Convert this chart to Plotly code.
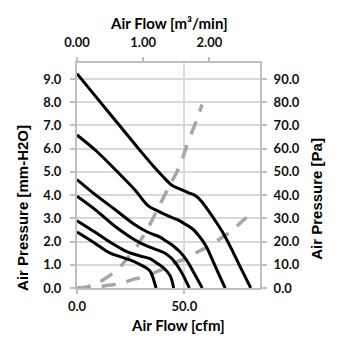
import plotly.graph_objects as go

# ---- data (Air Flow in cfm, Air Pressure in mm-H2O) ----
c1_x = [0, 10, 20, 30, 36, 40, 44, 48, 52, 55, 58, 61, 64, 68, 72.8, 76.7, 80.9]
c1_y = [9.23, 8.1, 6.98, 5.85, 5.2, 4.8, 4.44, 4.26, 4.1, 3.98, 3.73, 3.35, 2.95, 2.37, 1.52, 0.78, 0]

c2_x = [0, 9, 18, 27, 33, 38, 43, 47, 50, 54, 57, 60, 63, 66, 69]
c2_y = [6.59, 5.9, 5.08, 4.22, 3.55, 3.3, 3.08, 2.93, 2.77, 2.53, 2.22, 1.82, 1.22, 0.6, 0]

c3_x = [0, 8.5, 17.8, 27, 33, 38.5, 41, 45, 48, 51, 55, 58.3]
c3_y = [4.67, 4.02, 3.37, 2.72, 2.4, 2.2, 2.05, 1.8, 1.55, 1.2, 0.56, 0]

c4_x = [0, 8.5, 17.8, 27, 33, 38, 41, 44, 46.5, 49, 52.3]
c4_y = [3.95, 3.37, 2.65, 2.07, 1.79, 1.62, 1.5, 1.28, 1.0, 0.62, 0]

c5_x = [0, 8.5, 15.5, 20, 24, 29.4, 34, 38, 40.5, 43.4, 45]
c5_y = [2.9, 2.4, 1.97, 1.72, 1.53, 1.38, 1.26, 1.02, 0.85, 0.52, 0]

c6_x = [0, 8, 15, 20, 25, 29, 32, 34.1, 35.6, 36.8]
c6_y = [2.41, 1.95, 1.52, 1.35, 1.2, 1.03, 0.88, 0.72, 0.38, 0]

imp_a_x = [0, 5, 10, 15, 20, 24, 28, 31, 34, 37, 40, 43, 46.5, 49, 51, 53.5, 56, 58.2]
imp_a_y = [0, 0.06, 0.23, 0.52, 0.9, 1.35, 1.8, 2.27, 2.75, 3.3, 3.85, 4.4, 5.0, 5.55, 6.1, 6.7, 7.3, 7.9]

imp_b_x = [0, 5, 10, 16, 21.7, 26.3, 32.5, 37.2, 41.8, 46.5, 51.1, 56.5, 61.2, 65.8, 70.4, 74.3, 79]
imp_b_y = [0, 0.02, 0.06, 0.13, 0.23, 0.38, 0.5, 0.71, 0.88, 1.12, 1.28, 1.57, 1.78, 2.07, 2.35, 2.66, 3.05]

x_cfm_ticks = [0, 50]
x_cfm_labels = ["0.0", "50.0"]
x_m3_ticks = [0, 1, 2]
x_m3_labels = ["0.00", "1.00", "2.00"]
y_mm_ticks = [0, 1, 2, 3, 4, 5, 6, 7, 8, 9]
y_pa_ticks = [0, 10, 20, 30, 40, 50, 60, 70, 80, 90]

fan_curves = [(c1_x, c1_y), (c2_x, c2_y), (c3_x, c3_y), (c4_x, c4_y), (c5_x, c5_y), (c6_x, c6_y)]
impedance = [(imp_a_x, imp_a_y), (imp_b_x, imp_b_y)]

fig = go.Figure()
for xs, ys in impedance:
    fig.add_trace(go.Scatter(x=xs, y=ys, mode="lines",
                             line=dict(color="#a6a6a6", width=3.5, dash="14px,11px",
                                       shape="spline", smoothing=0.8),
                             showlegend=False, hoverinfo="skip"))
for xs, ys in fan_curves:
    fig.add_trace(go.Scatter(x=xs, y=ys, mode="lines",
                             line=dict(color="#000000", width=3, shape="spline", smoothing=1.0),
                             showlegend=False, hoverinfo="skip"))
# anchor trace for the secondary (top/right) axes
fig.add_trace(go.Scatter(x=[], y=[], xaxis="x2", yaxis="y2", mode="lines",
                         showlegend=False, hoverinfo="skip"))

tickfont = dict(family="Lato", size=13, color="#111111", weight="bold")
titlefont = dict(family="Lato", size=15, color="#000000", weight="bold")
axcol = "#bfbfbf"
gridcol = "#d9d9d9"

fig.update_layout(
    width=347, height=347,
    margin=dict(l=69, r=95, t=55, b=67),
    paper_bgcolor="white", plot_bgcolor="white",
    xaxis=dict(range=[0, 85.2], tickvals=x_cfm_ticks, ticktext=x_cfm_labels,
               showgrid=True, gridcolor=gridcol, gridwidth=2, zeroline=False,
               showline=True, linecolor=axcol, linewidth=2,
               ticks="outside", ticklen=4, tickcolor=axcol, tickwidth=1.5,
               tickfont=tickfont, ticklabelstandoff=1),
    xaxis2=dict(range=[0, 2.765], tickvals=x_m3_ticks, ticktext=x_m3_labels,
                overlaying="x", side="top", anchor="y",
                showgrid=False, zeroline=False,
                showline=True, linecolor=axcol, linewidth=2,
                ticks="outside", ticklen=4, tickcolor=axcol, tickwidth=1.5,
                tickfont=tickfont, ticklabelstandoff=5),
    yaxis=dict(range=[0, 9.69], tickvals=y_mm_ticks, tickformat=".1f",
               showgrid=True, gridcolor=gridcol, gridwidth=2, zeroline=False,
               showline=True, linecolor=axcol, linewidth=2,
               ticks="outside", ticklen=5, tickcolor=axcol, tickwidth=1.5,
               tickfont=tickfont, ticklabelstandoff=6),
    yaxis2=dict(range=[0, 96.9], tickvals=y_pa_ticks, tickformat=".1f",
                overlaying="y", side="right", anchor="x",
                showgrid=False, zeroline=False,
                showline=True, linecolor=axcol, linewidth=2,
                ticks="outside", ticklen=5, tickcolor=axcol, tickwidth=1.5,
                tickfont=tickfont, ticklabelstandoff=4),
    annotations=[
        dict(text="Air Flow [m³/min]", xref="paper", yref="paper", x=0.5, y=1.18,
             xanchor="center", yanchor="middle", showarrow=False, font=titlefont),
        dict(text="Air Flow [cfm]", xref="paper", yref="paper", x=0.552, y=-0.166,
             xanchor="center", yanchor="middle", showarrow=False, font=titlefont),
        dict(text="Air Pressure [mm-H2O]", xref="paper", yref="paper", x=-0.295, y=0.356,
             xanchor="center", yanchor="middle", showarrow=False, textangle=-90,
             font=dict(family="Liberation Sans", size=15, color="#000000", weight="bold")),
        dict(text="Air Pressure [Pa]", xref="paper", yref="paper", x=1.311, y=0.396,
             xanchor="center", yanchor="middle", showarrow=False, textangle=-90,
             font=dict(family="Liberation Sans", size=15, color="#000000", weight="bold")),
    ],
)

fig.write_html("out.html")
